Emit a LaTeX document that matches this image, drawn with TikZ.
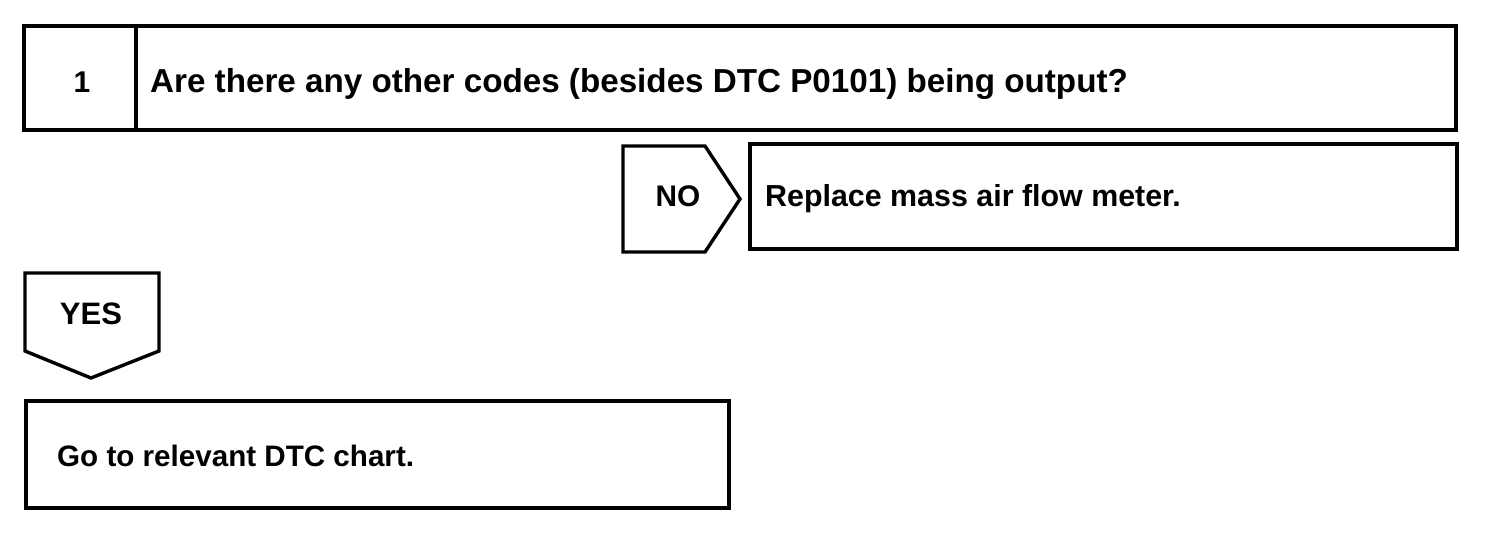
\documentclass[tikz,border=0pt]{standalone}
\usepackage{fontspec}
\setmainfont{Liberation Sans}
\begin{document}
\begin{tikzpicture}[x=1pt,y=-1pt,
  box/.style={draw=black,line width=3.4pt,line join=miter},
  lbl/.style={font=\fontsize{30}{34}\selectfont\bfseries,inner sep=0pt,anchor=base},
  lbll/.style={lbl,anchor=base west}]
\useasboundingbox (0,0) rectangle (1504,546);
% question box
\draw[box] (24,26) rectangle (1456,130);
\draw[box] (136,26) -- (136,130);
\node[lbl] (n1) at (82,92) {1};
\node[lbll,font=\fontsize{33.2}{36}\selectfont\bfseries] (q) at (150,92) {Are there any other codes (besides DTC P0101) being output?};
% NO branch
\draw[box] (623,146) -- (705,146) -- (740,199) -- (705,252) -- (623,252) -- cycle;
\node[lbl,font=\fontsize{29.8}{34}\selectfont\bfseries] (no) at (678,206) {NO};
\draw[box] (750,144) rectangle (1457,249);
\node[lbll,font=\fontsize{30.4}{34}\selectfont\bfseries] (rep) at (765,206) {Replace mass air flow meter.};
% YES branch
\draw[box] (25,273) -- (159,273) -- (159,351) -- (91,378) -- (25,351) -- cycle;
\node[lbl,font=\fontsize{31}{34}\selectfont\bfseries] (yes) at (91,324) {YES};
\draw[box] (26,401) rectangle (729,508);
\node[lbll,font=\fontsize{29.6}{34}\selectfont\bfseries] (go) at (57,466) {Go to relevant DTC chart.};
\end{tikzpicture}
\end{document}
